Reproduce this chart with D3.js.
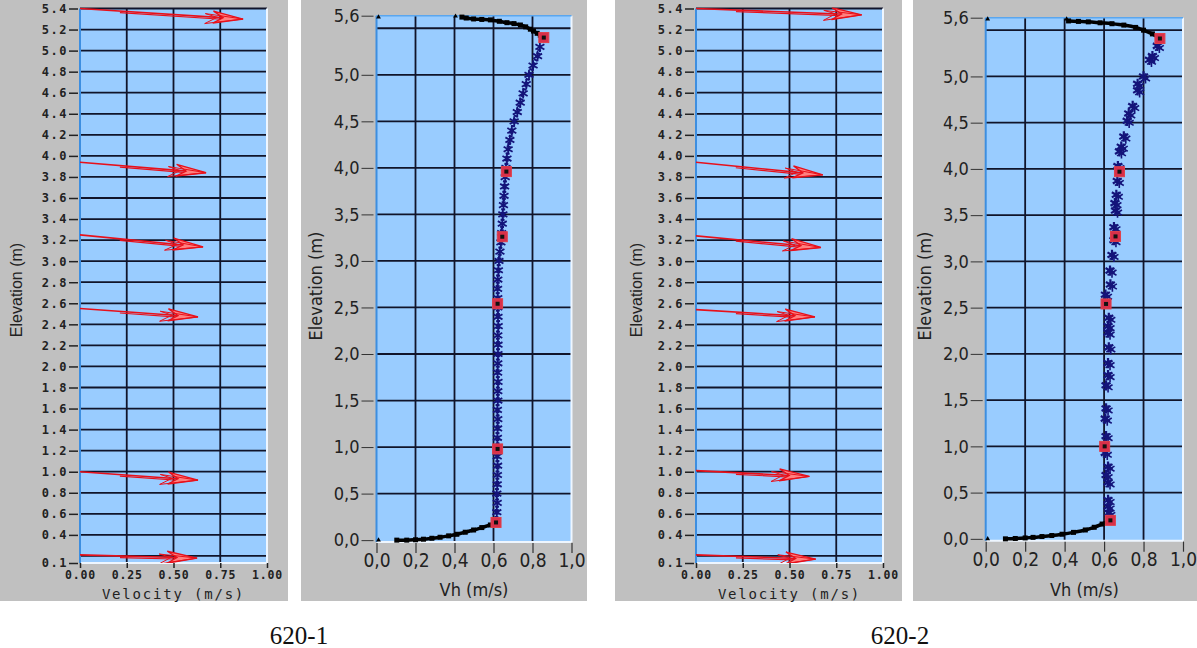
<!DOCTYPE html>
<html><head><meta charset="utf-8">
<script src="https://cdn.jsdelivr.net/npm/d3@7"></script>
<style>
html,body{margin:0;padding:0;background:#fff;}
svg{display:block;}
</style></head>
<body>
<svg id="c" width="1197" height="648"></svg>
<script>
// ---------------- DATA ----------------
const captions = ["620-1", "620-2"];

// arrow panels (velocity vectors)
const velTicks = [0, 0.25, 0.5, 0.75, 1.0];
const velTickLabels = ["0.00", "0.25", "0.50", "0.75", "1.00"];
const elevGridA = [0.2,0.4,0.6,0.8,1.0,1.2,1.4,1.6,1.8,2.0,2.2,2.4,2.6,2.8,3.0,3.2,3.4,3.6,3.8,4.0,4.2,4.4,4.6,4.8,5.0,5.2,5.4];
const elevLabelTicksA = [0.4,0.6,0.8,1.0,1.2,1.4,1.6,1.8,2.0,2.2,2.4,2.6,2.8,3.0,3.2,3.4,3.6,3.8,4.0,4.2,4.4,4.6,4.8,5.0,5.2,5.4];
const elevMinLabelA = "0.1";

const arrowStartElev1 = [5.40, 3.94, 3.25, 2.55, 1.00, 0.21];
const arrowTipVel1    = [0.872, 0.674, 0.658, 0.631, 0.631, 0.626];
const arrowTipElev1   = [5.30, 3.84, 3.135, 2.47, 0.92, 0.18];
const arrowStartElev2 = [5.40, 3.94, 3.24, 2.54, 1.01, 0.21];
const arrowTipVel2    = [0.886, 0.678, 0.668, 0.636, 0.606, 0.640];
const arrowTipElev2   = [5.34, 3.82, 3.13, 2.47, 0.955, 0.17];

// profile panels (Vh vs elevation)
const vhTicks = [0, 0.2, 0.4, 0.6, 0.8, 1.0];
const vhTickLabels = ["0,0", "0,2", "0,4", "0,6", "0,8", "1,0"];
const elevTicksB = [0, 0.5, 1.0, 1.5, 2.0, 2.5, 3.0, 3.5, 4.0, 4.5, 5.0];
const elevTickLabelsB = ["0,0","0,5","1,0","1,5","2,0","2,5","3,0","3,5","4,0","4,5","5,0"];
const elevGridB = [0.5, 1.0, 1.5, 2.0, 2.5, 3.0, 3.5, 4.0, 4.5, 5.0, 5.5];
const elevMaxLabelB = "5,6";

// 620-1 measured profile
const blueElev1 = [0.2,0.3,0.4,0.5,0.6,0.7,0.8,0.9,1.0,1.1,1.2,1.3,1.4,1.5,1.6,1.7,1.8,1.9,2.0,2.1,2.2,2.3,2.4,2.5,2.6,2.7,2.8,2.9,3.0,3.1,3.2,3.3,3.4,3.5,3.6,3.7,3.8,3.9,4.0,4.1,4.2,4.3,4.4,4.5,4.6,4.7,4.8,4.9,5.0,5.1,5.2,5.3];
const blueVh1   = [0.613,0.617,0.619,0.617,0.619,0.620,0.621,0.619,0.621,0.620,0.621,0.622,0.620,0.622,0.622,0.623,0.621,0.622,0.623,0.623,0.622,0.624,0.623,0.622,0.622,0.621,0.622,0.625,0.628,0.633,0.638,0.642,0.645,0.648,0.651,0.654,0.657,0.660,0.664,0.669,0.675,0.684,0.694,0.706,0.722,0.737,0.752,0.768,0.782,0.803,0.826,0.838];
const botVh1   = [0.613,0.584,0.540,0.498,0.455,0.412,0.370,0.326,0.284,0.241,0.200,0.155,0.104];
const botElev1 = [0.19,0.163,0.135,0.109,0.085,0.063,0.046,0.031,0.020,0.010,0.004,0.0,0.0];
const topVh1   = [0.858,0.840,0.824,0.805,0.789,0.765,0.738,0.705,0.669,0.630,0.584,0.540,0.498,0.460,0.438];
const topElev1 = [5.40,5.425,5.446,5.47,5.49,5.515,5.535,5.55,5.56,5.575,5.59,5.595,5.60,5.61,5.62];
const edgeVh1 = [0.0, 0.395, 0.0];
const edgeElev1 = [5.62, 5.63, 0.0];
const sqVh1   = [0.858, 0.666, 0.645, 0.621, 0.621, 0.613];
const sqElev1 = [5.40, 3.96, 3.26, 2.54, 0.98, 0.19];

// 620-2 measured profile
const blueElev2 = [0.28,0.35,0.42,0.61,0.69,0.78,0.93,1.11,1.30,1.41,1.66,1.77,1.90,2.07,2.23,2.30,2.39,2.64,2.75,2.90,3.07,3.23,3.37,3.55,3.63,3.72,3.87,4.03,4.19,4.24,4.35,4.52,4.60,4.68,4.85,4.92,5.00,5.18,5.22,5.33];
const blueVh2   = [0.624,0.620,0.620,0.620,0.610,0.620,0.606,0.610,0.606,0.610,0.610,0.620,0.620,0.624,0.620,0.620,0.624,0.607,0.632,0.630,0.640,0.650,0.650,0.658,0.655,0.662,0.667,0.670,0.678,0.687,0.700,0.717,0.725,0.745,0.770,0.770,0.800,0.830,0.845,0.870];
const botVh2   = [0.632,0.590,0.550,0.505,0.445,0.387,0.335,0.285,0.240,0.200,0.150,0.100];
const botElev2 = [0.20,0.16,0.125,0.096,0.07,0.05,0.036,0.025,0.016,0.01,0.004,0.0];
const topVh2   = [0.883,0.845,0.800,0.760,0.700,0.640,0.580,0.520,0.470,0.420];
const topElev2 = [5.41,5.46,5.50,5.53,5.555,5.57,5.58,5.59,5.595,5.60];
const edgeVh2 = [0.0, 0.40, 0.0];
const edgeElev2 = [5.62, 5.62, 0.0];
const sqVh2   = [0.883, 0.678, 0.658, 0.610, 0.603, 0.632];
const sqElev2 = [5.41, 3.97, 3.27, 2.54, 1.00, 0.20];

// ---------------- DRAW ----------------
const svg = d3.select("#c");
const GRAY = "#c0c0c0", FILL = "#99ccff", GRID = "#10142a";
const BLUE_EDGE = "#3d8ee0", LIGHT_EDGE = "#eef6ff";

function arrowPanel(cfg, starts, tipV, tipE) {
  const g = svg.append("g");
  g.append("rect").attr("x", cfg.gx).attr("y", 0).attr("width", cfg.gw).attr("height", 601).attr("fill", GRAY);
  const x = d3.scaleLinear().domain([0, 1]).range([cfg.left, cfg.right]);
  const y = d3.scaleLinear().domain([0.133, 5.4]).range([cfg.bottom, cfg.top]);
  g.append("rect").attr("x", cfg.left).attr("y", cfg.top).attr("width", cfg.right - cfg.left)
    .attr("height", cfg.bottom - cfg.top).attr("fill", FILL);
  g.selectAll(".hg").data(elevGridA).join("line")
    .attr("x1", cfg.left).attr("x2", cfg.right).attr("y1", d => y(d)).attr("y2", d => y(d))
    .attr("stroke", GRID).attr("stroke-width", 1.8);
  g.selectAll(".vg").data(velTicks.filter(v => v > 0 && v < 1)).join("line")
    .attr("x1", d => x(d)).attr("x2", d => x(d)).attr("y1", cfg.top).attr("y2", cfg.bottom)
    .attr("stroke", GRID).attr("stroke-width", 1.8);
  g.append("line").attr("x1", cfg.right).attr("x2", cfg.right).attr("y1", cfg.top).attr("y2", cfg.bottom).attr("stroke", LIGHT_EDGE).attr("stroke-width", 2);
  g.append("line").attr("x1", cfg.left).attr("x2", cfg.right).attr("y1", cfg.bottom).attr("y2", cfg.bottom).attr("stroke", LIGHT_EDGE).attr("stroke-width", 2);
  g.append("line").attr("x1", cfg.left).attr("x2", cfg.left).attr("y1", cfg.top).attr("y2", cfg.bottom).attr("stroke", BLUE_EDGE).attr("stroke-width", 2);

  const font = "'DejaVu Sans Mono', monospace";
  const yAx = d3.axisLeft(y).tickValues(elevLabelTicksA.concat([0.133]))
    .tickFormat(d => d === 0.133 ? elevMinLabelA : d3.format(".1f")(d)).tickSize(9).tickPadding(1);
  const ya = g.append("g").attr("transform", `translate(${cfg.left - 2},0)`).call(yAx);
  ya.select(".domain").remove();
  ya.selectAll("line").attr("stroke", "#222").attr("stroke-width", 1.5);
  ya.selectAll("text").attr("font-family", font).attr("font-weight", "bold").attr("font-size", 12)
    .attr("letter-spacing", 1.5).attr("fill", "#222");
  const xAx = d3.axisBottom(x).tickValues(velTicks).tickFormat((d, i) => velTickLabels[i]).tickSize(5).tickPadding(3);
  const xa = g.append("g").attr("transform", `translate(0,${cfg.bottom})`).call(xAx);
  xa.select(".domain").remove();
  xa.selectAll("line").attr("stroke", "#222").attr("stroke-width", 1.5);
  xa.selectAll("text").attr("font-family", font).attr("font-weight", "bold").attr("font-size", 11.5)
    .attr("letter-spacing", 0.8).attr("fill", "#222");
  g.append("text").attr("x", (cfg.left + cfg.right) / 2).attr("y", 599).attr("text-anchor", "middle")
    .attr("font-family", font).attr("font-size", 14).attr("letter-spacing", 1.8).attr("fill", "#222")
    .text("Velocity (m/s)");
  g.append("text").attr("transform", `translate(${cfg.gx + cfg.ylx},290) rotate(-90)`).attr("text-anchor", "middle")
    .attr("dy", "0.35em").attr("font-family", "'Liberation Sans', Arial, sans-serif").attr("font-size", 16)
    .attr("fill", "#222").text("Elevation (m)");

  const clip = "clipA" + cfg.gx;
  g.append("clipPath").attr("id", clip).append("rect").attr("x", cfg.left).attr("y", cfg.top - 1)
    .attr("width", cfg.right - cfg.left).attr("height", cfg.bottom - cfg.top + 1);
  const ag = g.append("g").attr("clip-path", `url(#${clip})`);
  starts.forEach((s, i) => {
    const x0 = x(0), y0 = y(s), x1 = x(tipV[i]), y1 = y(tipE[i]);
    const dx = x1 - x0, dy = y1 - y0, L = Math.hypot(dx, dy);
    const ux = dx / L, uy = dy / L, px = -uy, py = ux;
    ag.append("line").attr("x1", x0).attr("y1", y0).attr("x2", x1 - ux * 10).attr("y2", y1 - uy * 10)
      .attr("stroke", "#e8101a").attr("stroke-width", 1.6);
    ag.append("line").attr("x1", x0 + ux * 40).attr("y1", y0 + uy * 40 + 1.6).attr("x2", x1 - ux * 14).attr("y2", y1 - uy * 14 + 1.6)
      .attr("stroke", "#e8101a").attr("stroke-width", 1.2);
    const head = (back, w, notch, off) => {
      const bx = x1 - ux * back + px * off, by = y1 - uy * back + py * off;
      return [[x1, y1], [bx + px * w, by + py * w], [x1 - ux * notch, y1 - uy * notch], [bx - px * w, by - py * w]];
    };
    const line = d3.line();
    ag.append("path").attr("d", line(head(30, 6, 20, 0)) + "Z").attr("fill", "#ff8080").attr("stroke", "#e8101a").attr("stroke-width", 1.3);
    ag.append("path").attr("d", line(head(38, 5, 26, 2)) + "Z").attr("fill", "none").attr("stroke", "#e8101a").attr("stroke-width", 1);
  });
}

function profilePanel(cfg, bE, bV, botV, botE, topV, topE, edgeV, edgeE, sqV, sqE, dense) {
  const g = svg.append("g");
  g.append("rect").attr("x", cfg.gx).attr("y", 0).attr("width", cfg.gw).attr("height", 601).attr("fill", GRAY);
  const x = d3.scaleLinear().domain([0, 1]).range([cfg.left, cfg.right]);
  const y = d3.scaleLinear().domain([-0.02, 5.635]).range([cfg.bottom, cfg.top]);
  g.append("rect").attr("x", cfg.left).attr("y", cfg.top).attr("width", cfg.right - cfg.left)
    .attr("height", cfg.bottom - cfg.top).attr("fill", FILL);
  g.selectAll(".hg").data(elevGridB).join("line")
    .attr("x1", cfg.left).attr("x2", cfg.right).attr("y1", d => y(d)).attr("y2", d => y(d))
    .attr("stroke", GRID).attr("stroke-width", 1.8);
  g.selectAll(".vg").data(vhTicks.filter(v => v > 0 && v < 1)).join("line")
    .attr("x1", d => x(d)).attr("x2", d => x(d)).attr("y1", cfg.top).attr("y2", cfg.bottom)
    .attr("stroke", GRID).attr("stroke-width", 1.8);
  g.append("line").attr("x1", cfg.right).attr("x2", cfg.right).attr("y1", cfg.top).attr("y2", cfg.bottom).attr("stroke", LIGHT_EDGE).attr("stroke-width", 2);
  g.append("line").attr("x1", cfg.left).attr("x2", cfg.right).attr("y1", cfg.bottom).attr("y2", cfg.bottom).attr("stroke", LIGHT_EDGE).attr("stroke-width", 2);
  g.append("line").attr("x1", cfg.left).attr("x2", cfg.right).attr("y1", cfg.top).attr("y2", cfg.top).attr("stroke", "#5aa6ee").attr("stroke-width", 1.5);
  g.append("line").attr("x1", cfg.left).attr("x2", cfg.left).attr("y1", cfg.top).attr("y2", cfg.bottom).attr("stroke", BLUE_EDGE).attr("stroke-width", 2);

  const font = "'Liberation Sans Narrow', 'DejaVu Sans Condensed', 'Liberation Sans', sans-serif";
  const yAx = d3.axisLeft(y).tickValues(elevTicksB.concat([5.635]))
    .tickFormat(d => d === 5.635 ? elevMaxLabelB : elevTickLabelsB[elevTicksB.indexOf(d)]).tickSize(12).tickPadding(2);
  const ya = g.append("g").attr("transform", `translate(${cfg.left - 3},0)`).call(yAx);
  ya.select(".domain").remove();
  ya.selectAll("line").attr("stroke", "#333").attr("stroke-width", 1);
  ya.selectAll("text").attr("font-family", font).attr("font-size", 18).attr("fill", "#222");
  const xAx = d3.axisBottom(x).tickValues(vhTicks).tickFormat((d, i) => vhTickLabels[i]).tickSize(10).tickPadding(1);
  const xa = g.append("g").attr("transform", `translate(0,${cfg.bottom + 1})`).call(xAx);
  xa.select(".domain").remove();
  xa.selectAll("line").attr("stroke", "#333").attr("stroke-width", 1.2);
  xa.selectAll("text").attr("font-family", font).attr("font-size", 19).attr("fill", "#222");
  g.append("text").attr("x", (cfg.left + cfg.right) / 2).attr("y", 596).attr("text-anchor", "middle")
    .attr("font-family", font).attr("font-size", 18).attr("fill", "#222").text("Vh (m/s)");
  g.append("text").attr("transform", `translate(${cfg.gx + cfg.ylx},286) rotate(-90)`).attr("text-anchor", "middle")
    .attr("dy", "0.35em").attr("font-family", font).attr("font-size", 18).attr("fill", "#222").text("Elevation (m)");

  const NAVY = "#14147a";
  const pts = bE.map((e, i) => [bV[i], e]);
  if (dense) {
    g.append("path").attr("d", d3.line().x(d => x(d[0])).y(d => y(d[1]))(pts))
      .attr("fill", "none").attr("stroke", NAVY).attr("stroke-width", 4).attr("stroke-dasharray", "2,1.5");
  }
  const sym = d3.symbol().type(d3.symbolAsterisk).size(75);
  g.selectAll(".ast").data(pts).join("path")
    .attr("transform", d => `translate(${x(d[0])},${y(d[1])})`).attr("d", sym)
    .attr("fill", "none").attr("stroke", NAVY).attr("stroke-width", dense ? 1.8 : 2.2);
  if (!dense) {
    g.selectAll(".ast2").data(pts).join("path")
      .attr("transform", d => `translate(${x(d[0]) + 2},${y(d[1]) + 2})`).attr("d", sym)
      .attr("fill", "none").attr("stroke", NAVY).attr("stroke-width", 1.6);
  }
  [[botV, botE], [topV, topE]].forEach(([vs, es]) => {
    const p = vs.map((v, i) => [v, es[i]]);
    g.append("path").attr("d", d3.line().curve(d3.curveMonotoneX).x(d => x(d[0])).y(d => y(d[1]))(p.slice().sort((a, b) => a[0] - b[0])))
      .attr("fill", "none").attr("stroke", "#000").attr("stroke-width", 3.5);
    g.selectAll(null).data(p).join("rect").attr("x", d => x(d[0]) - 2.5).attr("y", d => y(d[1]) - 2.5)
      .attr("width", 5).attr("height", 5).attr("fill", "#000");
  });
  g.selectAll(".edge").data(edgeV.map((v, i) => [v, edgeE[i]])).join("path")
    .attr("transform", d => `translate(${x(d[0]) + 2},${y(d[1])})`)
    .attr("d", d3.symbol().type(d3.symbolTriangle).size(10)).attr("fill", "#000");
  g.selectAll(".sq").data(sqV.map((v, i) => [v, sqE[i]])).join("rect")
    .attr("x", d => x(d[0]) - 5).attr("y", d => y(d[1]) - 5).attr("width", 10).attr("height", 10)
    .attr("fill", "#d8304a").attr("stroke", "#e0404a").attr("stroke-width", 1);
  g.selectAll(".sqc").data(sqV.map((v, i) => [v, sqE[i]])).join("rect")
    .attr("x", d => x(d[0]) - 2).attr("y", d => y(d[1]) - 2).attr("width", 4).attr("height", 4)
    .attr("fill", "#111");
}

arrowPanel({gx: 0, gw: 288, left: 80, right: 267, top: 8.5, bottom: 563, ylx: 16}, arrowStartElev1, arrowTipVel1, arrowTipElev1);
profilePanel({gx: 301, gw: 286, left: 376.5, right: 571.5, top: 15.7, bottom: 542, ylx: 15},
  blueElev1, blueVh1, botVh1, botElev1, topVh1, topElev1, edgeVh1, edgeElev1, sqVh1, sqElev1, true);
arrowPanel({gx: 615, gw: 287, left: 696, right: 883, top: 8.5, bottom: 563, ylx: 21}, arrowStartElev2, arrowTipVel2, arrowTipElev2);
profilePanel({gx: 913, gw: 284, left: 985.7, right: 1183, top: 17.7, bottom: 540.7, ylx: 12},
  blueElev2, blueVh2, botVh2, botElev2, topVh2, topElev2, edgeVh2, edgeElev2, sqVh2, sqElev2, false);

svg.selectAll(".cap").data(captions).join("text")
  .attr("x", (d, i) => [299, 900][i]).attr("y", 644).attr("text-anchor", "middle")
  .attr("font-family", "'Liberation Serif', 'Times New Roman', serif").attr("font-size", 25).attr("fill", "#111")
  .text(d => d);
</script>
</body></html>
